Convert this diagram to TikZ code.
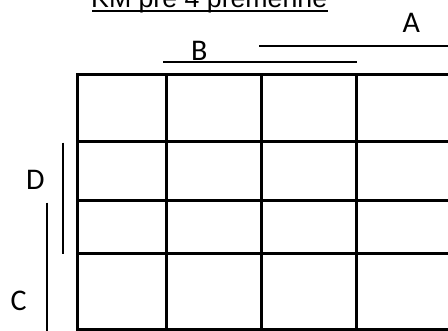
\documentclass[tikz,border=0pt]{standalone}
\usepackage{fontspec}
\newfontfamily\titlefont{Liberation Sans}
\newfontfamily\labelfont{Carlito}
\begin{document}
\begin{tikzpicture}[x=1pt,y=-1pt,
  gridline/.style={line width=2.6pt},
  varline/.style={line width=2pt},
  lbl/.style={inner sep=0pt,anchor=base west,font=\labelfont\fontsize{30}{36}\selectfont},
  ttl/.style={inner sep=0pt,anchor=base west,font=\titlefont\fontsize{26.7}{32}\selectfont}]
\useasboundingbox (0,0) rectangle (448,331);
\clip (0,0) rectangle (448,331);
% title
\node[ttl] (title) at (91,7.5) {KM pre 4 premenne};
\draw[line width=1.8pt] (92,11) -- (328,11);
% grid
\foreach \x in {77.3,166.7,261.7,356.7,451.7}
  \draw[gridline] (\x,74.8) -- (\x,329.4);
\foreach \y in {74.8,141.7,200.7,253.3,329.4}
  \draw[gridline] (76,\y) -- (453,\y);
% variable bars
\coordinate (a1) at (259,46.3);
\coordinate (a2) at (452,46.3);
\coordinate (b1) at (163,62.2);
\coordinate (b2) at (356.8,62.2);
\coordinate (d1) at (62.7,142.7);
\coordinate (d2) at (62.7,254);
\coordinate (c1) at (46.7,202.7);
\coordinate (c2) at (46.7,332);
\draw[varline] (a1) -- (a2);
\draw[varline] (b1) -- (b2);
\draw[varline] (d1) -- (d2);
\draw[varline] (c1) -- (c2);
% labels
\node[lbl] (A) at (402.5,33) {A};
\node[lbl] (B) at (191,61) {B};
\node[lbl] (D) at (26,189.3) {D};
\node[lbl] (C) at (10.5,310.8) {C};
\end{tikzpicture}
\end{document}
